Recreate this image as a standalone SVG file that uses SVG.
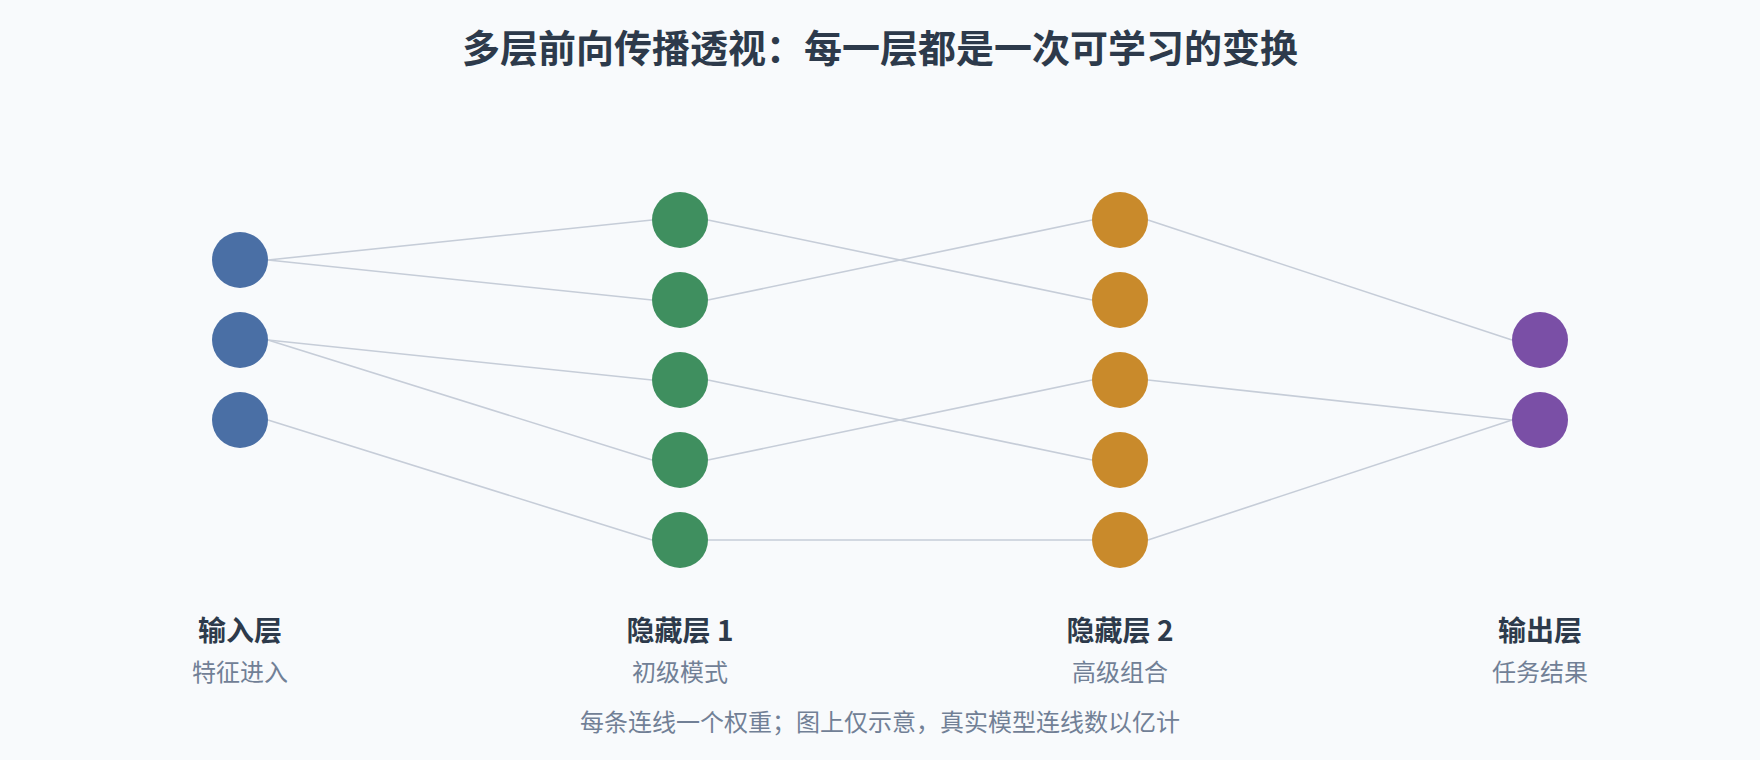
<svg xmlns="http://www.w3.org/2000/svg" width="1760" height="760" viewBox="0 0 1760 760">
  <style>
    text { font-family: "Noto Sans CJK SC", "Noto Sans", sans-serif; text-anchor: middle; }
    .title { font-size: 38px; font-weight: 700; fill: #2d3a4b; }
    .layer { font-size: 28px; font-weight: 700; fill: #2d3a4b; }
    .sub { font-size: 24px; fill: #718096; }
    .caption { font-size: 24px; fill: #718096; }
    .edge { stroke: #c6cdd8; stroke-width: 1.6; fill: none; }
    .in { fill: #4a6fa5; }
    .h1 { fill: #3f8f5f; }
    .h2 { fill: #c98a2b; }
    .out { fill: #7a4fa6; }
  </style>
  <rect x="0" y="0" width="1760" height="760" fill="#f8fafc"/>
  <text class="title" x="880" y="62">多层前向传播透视：每一层都是一次可学习的变换</text>

  <g id="connectors">
    <line class="edge" x1="268" y1="260" x2="652" y2="220"/>
    <line class="edge" x1="268" y1="260" x2="652" y2="300"/>
    <line class="edge" x1="268" y1="340" x2="652" y2="380"/>
    <line class="edge" x1="268" y1="340" x2="652" y2="460"/>
    <line class="edge" x1="268" y1="420" x2="652" y2="540"/>
    <line class="edge" x1="708" y1="220" x2="1092" y2="300"/>
    <line class="edge" x1="708" y1="300" x2="1092" y2="220"/>
    <line class="edge" x1="708" y1="380" x2="1092" y2="460"/>
    <line class="edge" x1="708" y1="460" x2="1092" y2="380"/>
    <line class="edge" x1="708" y1="540" x2="1092" y2="540"/>
    <line class="edge" x1="1148" y1="220" x2="1512" y2="340"/>
    <line class="edge" x1="1148" y1="380" x2="1512" y2="420"/>
    <line class="edge" x1="1148" y1="540" x2="1512" y2="420"/>
  </g>

  <g id="input-layer">
    <circle id="in-1" class="in" cx="240" cy="260" r="28"/>
    <circle id="in-2" class="in" cx="240" cy="340" r="28"/>
    <circle id="in-3" class="in" cx="240" cy="420" r="28"/>
    <text class="layer" x="240" y="641">输入层</text>
    <text class="sub" x="240" y="681">特征进入</text>
  </g>
  <g id="hidden-layer-1">
    <circle id="h1-1" class="h1" cx="680" cy="220" r="28"/>
    <circle id="h1-2" class="h1" cx="680" cy="300" r="28"/>
    <circle id="h1-3" class="h1" cx="680" cy="380" r="28"/>
    <circle id="h1-4" class="h1" cx="680" cy="460" r="28"/>
    <circle id="h1-5" class="h1" cx="680" cy="540" r="28"/>
    <text class="layer" x="680" y="641">隐藏层 1</text>
    <text class="sub" x="680" y="681">初级模式</text>
  </g>
  <g id="hidden-layer-2">
    <circle id="h2-1" class="h2" cx="1120" cy="220" r="28"/>
    <circle id="h2-2" class="h2" cx="1120" cy="300" r="28"/>
    <circle id="h2-3" class="h2" cx="1120" cy="380" r="28"/>
    <circle id="h2-4" class="h2" cx="1120" cy="460" r="28"/>
    <circle id="h2-5" class="h2" cx="1120" cy="540" r="28"/>
    <text class="layer" x="1120" y="641">隐藏层 2</text>
    <text class="sub" x="1120" y="681">高级组合</text>
  </g>
  <g id="output-layer">
    <circle id="out-1" class="out" cx="1540" cy="340" r="28"/>
    <circle id="out-2" class="out" cx="1540" cy="420" r="28"/>
    <text class="layer" x="1540" y="641">输出层</text>
    <text class="sub" x="1540" y="681">任务结果</text>
  </g>

  <text class="caption" x="880" y="731">每条连线一个权重；图上仅示意，真实模型连线数以亿计</text>
</svg>
